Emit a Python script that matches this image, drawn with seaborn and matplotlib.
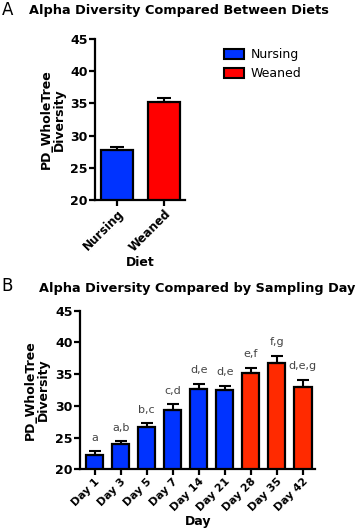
import numpy as np
import pandas as pd
import matplotlib
matplotlib.use("Agg")
import matplotlib.pyplot as plt
import seaborn as sns
from matplotlib.patches import Patch

# datos panel A
diets = ["Nursing", "Weaned"]
diet_mean = [27.8, 35.2]
diet_sem = [0.5, 0.7]

# datos panel B
days = ["Day 1", "Day 3", "Day 5", "Day 7", "Day 14", "Day 21", "Day 28", "Day 35", "Day 42"]
day_mean = [22.3, 24.0, 26.6, 29.3, 32.7, 32.5, 35.1, 36.8, 32.9]
day_sem = [0.5, 0.4, 0.7, 1.0, 0.8, 0.7, 0.9, 1.1, 1.2]
day_letters = ["a", "a,b", "b,c", "c,d", "d,e", "d,e", "e,f", "f,g", "d,e,g"]
day_diet = ["Nursing"] * 6 + ["Weaned"] * 3

yticks = [20, 25, 30, 35, 40, 45]

sns.set_theme(style="ticks")
plt.rcParams["font.family"] = ["DejaVu Sans"]
plt.rcParams["text.color"] = "black"
plt.rcParams["axes.labelcolor"] = "black"
plt.rcParams["xtick.color"] = "black"
plt.rcParams["ytick.color"] = "black"

blue = "#0033ff"
red_a = "#ff0000"
red_b = "#ff2a00"

W, H = 358, 532
fig = plt.figure(figsize=(W / 100, H / 100), dpi=100)


def estilo(ax):
    sns.despine(ax=ax)
    for s in ["left", "bottom"]:
        ax.spines[s].set_linewidth(1.6)
        ax.spines[s].set_color("black")
    ax.set_ylim(20, 45)
    ax.set_yticks(yticks)
    ax.tick_params(axis="both", width=1.6, length=4, color="black", pad=1)
    for lab in ax.get_yticklabels():
        lab.set_fontweight("bold")
        lab.set_fontsize(9)
    ax.set_ylabel("PD_WholeTree\nDiversity", fontsize=9, fontweight="bold",
                  linespacing=1.0)
    ax.set_xlabel("")
    ax.set_facecolor("white")


# panel A
axA = fig.add_axes([0.265, 0.624, 0.252, 0.303])
dfA = pd.DataFrame({"diet": diets, "mean": diet_mean})
sns.barplot(data=dfA, x="diet", y="mean", hue="diet",
            palette=[blue, red_a], width=0.68, saturation=1,
            edgecolor="black", linewidth=1.6, legend=False, ax=axA)
axA.errorbar(range(len(diets)), diet_mean, yerr=[np.zeros(2), diet_sem],
             fmt="none", ecolor="black", elinewidth=1.5, capsize=5,
             capthick=1.5)
axA.set_xlim(-0.47, 1.45)
estilo(axA)
axA.set_xticks(range(len(diets)))
axA.set_xticklabels(diets, rotation=45, ha="right", rotation_mode="anchor",
                    fontsize=8.5, fontweight="bold")
axA.yaxis.labelpad = 3
fig.text(140 / W, 1 - 263 / H, "Diet", fontsize=9, fontweight="bold",
         ha="center", va="center")

handles = [Patch(facecolor=blue, edgecolor="black", linewidth=1.5, label="Nursing"),
           Patch(facecolor=red_a, edgecolor="black", linewidth=1.5, label="Weaned")]
fig.legend(handles=handles, loc="upper left", bbox_to_anchor=(0.595, 0.93),
           frameon=False, fontsize=9, handlelength=1.6, handleheight=0.8,
           handletextpad=0.5, labelspacing=0.45)

fig.text(0.005, 0.982, "A", fontsize=12, va="center", ha="left")
fig.text(0.5, 0.98, "Alpha Diversity Compared Between Diets", fontsize=9.3,
         fontweight="bold", va="center", ha="center")

# panel B
axB = fig.add_axes([0.223, 0.118, 0.657, 0.298])
dfB = pd.DataFrame({"day": days, "mean": day_mean, "diet": day_diet})
sns.barplot(data=dfB, x="day", y="mean", hue="diet",
            palette={"Nursing": blue, "Weaned": red_b}, width=0.67,
            saturation=1, dodge=False, edgecolor="black", linewidth=1.6,
            legend=False, ax=axB)
axB.errorbar(range(len(days)), day_mean, yerr=[np.zeros(len(days)), day_sem],
             fmt="none", ecolor="black", elinewidth=1.5, capsize=4,
             capthick=1.5)
for i, (m, e, t) in enumerate(zip(day_mean, day_sem, day_letters)):
    axB.annotate(t, (i, m + e), xytext=(0, 6), textcoords="offset points",
                 ha="center", va="bottom", fontsize=8, color="#444444")
axB.set_xlim(-0.565, 8.47)
estilo(axB)
axB.set_xticks(range(len(days)))
axB.set_xticklabels(days, rotation=45, ha="right", rotation_mode="anchor",
                    fontsize=7.8, fontweight="bold")
fig.text(198 / W, 1 - 522 / H, "Day", fontsize=9, fontweight="bold",
         ha="center", va="center")

fig.text(0.005, 0.462, "B", fontsize=12, va="center", ha="left")
fig.text(0.55, 0.457, "Alpha Diversity Compared by Sampling Day", fontsize=9.3,
         fontweight="bold", va="center", ha="center")

fig.savefig("out.png", dpi=100)
